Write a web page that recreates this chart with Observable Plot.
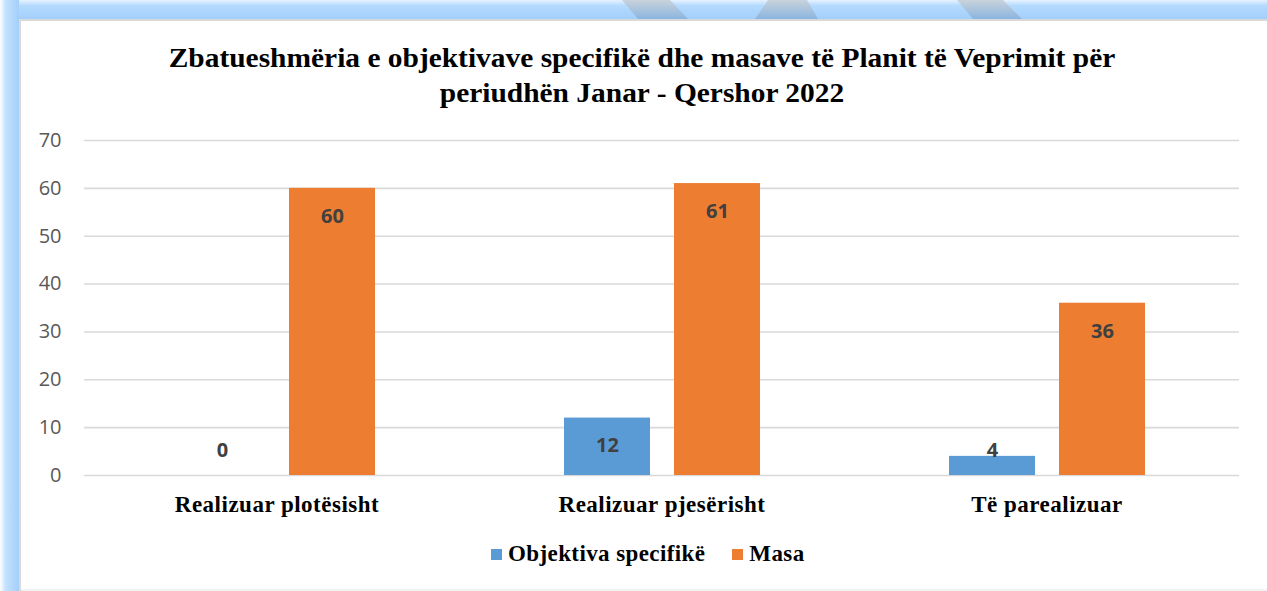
<!DOCTYPE html>
<html>
<head>
<meta charset="utf-8">
<script src="https://cdn.jsdelivr.net/npm/d3@7"></script>
<script src="https://cdn.jsdelivr.net/npm/@observablehq/plot@0.6"></script>
<style>
  html, body { margin: 0; padding: 0; background: #fff; }
  #wrap { position: relative; width: 1267px; height: 591px; overflow: hidden; background: #fff; }
  #frame { position: absolute; left: 0; top: 0; }
  #title { position: absolute; left: 642px; top: 41px; transform: translateX(-50%) scaleX(1.09); white-space: nowrap;
    text-align: center; font-family: "Liberation Serif", "Times New Roman", serif; font-weight: bold;
    font-size: 27px; line-height: 35px; color: #000; }
  #chart { position: absolute; left: 0; top: 120px; }
  #chart [aria-label="fx-axis tick label"] { letter-spacing: 0.5px; }
  #legend { position: absolute; left: 491px; top: 541px; display: flex; align-items: center; white-space: nowrap;
    font-family: "Liberation Serif", "Times New Roman", serif; font-weight: bold; font-size: 23px; color: #000;
    letter-spacing: 0.4px; }
  .item { display: flex; align-items: center; }
  .sw { width: 11px; height: 11px; margin-right: 6px; }
</style>
</head>
<body>
<div id="wrap">
  <svg id="frame" width="1267" height="591">
    <defs>
      <linearGradient id="gTop" x1="0" y1="0" x2="0" y2="1">
        <stop offset="0" stop-color="#e6f2ff"/>
        <stop offset="0.3" stop-color="#b4dafe"/>
        <stop offset="1" stop-color="#a2cffa"/>
      </linearGradient>
      <linearGradient id="gLeft" x1="0" y1="0" x2="1" y2="0">
        <stop offset="0" stop-color="#ffffff"/>
        <stop offset="0.3" stop-color="#c4e1ff"/>
        <stop offset="1" stop-color="#a2cffa"/>
      </linearGradient>
      <linearGradient id="gStripe" x1="0" y1="0" x2="0" y2="1">
        <stop offset="0" stop-color="#c9d2db"/>
        <stop offset="1" stop-color="#8bb5df"/>
      </linearGradient>
    </defs>
    <rect x="0" y="0" width="1267" height="19" fill="url(#gTop)"/>
    <polygon points="622,0 670,0 688,19 638,19" fill="url(#gStripe)"/>
    <polygon points="768,0 807,0 818,19 755,19" fill="url(#gStripe)"/>
    <polygon points="957,0 1003,0 1022,19 973,19" fill="url(#gStripe)"/>
    <rect x="0" y="0" width="19" height="591" fill="url(#gLeft)"/>
    <rect x="19" y="19" width="1248" height="2" fill="#d9d9d9"/>
    <rect x="19" y="19" width="2" height="572" fill="#d9d9d9"/>
    <rect x="21" y="21" width="1246" height="570" fill="#ffffff"/>
    <rect x="21" y="589" width="1246" height="2" fill="#f2f2f2"/>
  </svg>
  <div id="title">Zbatueshmëria e objektivave specifikë dhe masave të Planit të Veprimit për<br>periudhën Janar - Qershor 2022</div>
  <div id="chart"></div>
  <div id="legend"></div>
</div>
<script>
const categories = ["Realizuar plotësisht", "Realizuar pjesërisht", "Të parealizuar"];
const series = ["Objektiva specifikë", "Masa"];
const objektivaValues = [0, 12, 4];
const masaValues = [60, 61, 36];
const yTicks = [0, 10, 20, 30, 40, 50, 60, 70];
const colors = ["#5b9bd5", "#ed7d31"];

const rows = [];
categories.forEach((c, i) => {
  rows.push({category: c, series: series[0], value: objektivaValues[i]});
  rows.push({category: c, series: series[1], value: masaValues[i]});
});

const chart = Plot.plot({
  width: 1267,
  height: 430,
  marginLeft: 84,
  marginRight: 28,
  marginTop: 20,
  marginBottom: 75,
  style: {fontFamily: "'Open Sans', sans-serif", background: "transparent"},
  fx: {domain: categories, padding: 0, label: null},
  x: {domain: series, paddingInner: 0.2182, paddingOuter: 0.859, axis: null},
  y: {domain: [0, 70], label: null},
  color: {domain: series, range: colors},
  marks: [
    Plot.gridY(yTicks, {stroke: "#d9d9d9", strokeOpacity: 1, strokeWidth: 1.6}),
    Plot.axisY(yTicks, {tickSize: 0, tickPadding: 23, fontSize: 20, color: "#595959", label: null,
      fontFamily: "'Open Sans', sans-serif"}),
    Plot.axisFx({anchor: "bottom", tickSize: 0, tickPadding: 20, fontSize: 23, fontWeight: "bold",
      fontFamily: "'Liberation Serif', 'Times New Roman', serif", color: "#000", label: null}),
    Plot.barY(rows, {fx: "category", x: "series", y: "value", fill: "series"}),
    Plot.text(rows, {fx: "category", x: "series", y: d => Math.max(d.value, 11), dy: 28,
      text: d => String(d.value), fontSize: 20, fontWeight: "bold", fill: "#404040",
      fontFamily: "'Open Sans', sans-serif", textAnchor: "middle", lineAnchor: "middle"})
  ]
});
document.getElementById("chart").appendChild(chart);

const legend = d3.select("#legend");
series.forEach((s, i) => {
  const item = legend.append("div").attr("class", "item").style("margin-right", i === 0 ? "27px" : "0");
  item.append("div").attr("class", "sw").style("background", colors[i]);
  item.append("span").text(s);
});
</script>
</body>
</html>
